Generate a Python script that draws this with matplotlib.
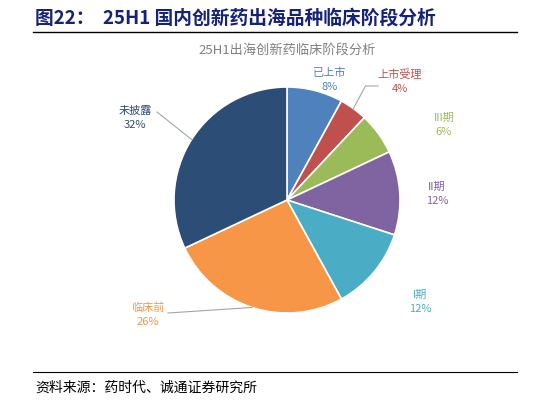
import matplotlib
matplotlib.use("Agg")
import matplotlib.pyplot as plt
import numpy as np

plt.rcParams['font.family'] = ['Noto Sans CJK SC', 'DejaVu Sans']

labels = ['已上市', '上市受理', 'III期', 'II期', 'I期', '临床前', '未披露']
values = [8, 4, 6, 12, 12, 26, 32]
colors = ['#4F81BD', '#C0504D', '#9BBB59', '#8064A2', '#4BACC6', '#F79646', '#2C4D75']
text_colors = ['#4F81BD', '#C0504D', '#9BBB59', '#8064A2', '#4BACC6', '#F79646', '#2C4D75']
# label anchor positions in pixels (layout)
label_pos = [(330, 80), (400, 82), (444, 125), (437, 194), (420, 302), (148, 315), (135, 118)]
leader = [False, True, False, False, False, True, True]

W, H = 547, 405
fig = plt.figure(figsize=(W/100, H/100), dpi=100)
ax = fig.add_axes([0, 0, 1, 1])
ax.set_xlim(0, W); ax.set_ylim(H, 0)
ax.axis('off')

cx, cy, r = 287, 200, 113
wedges, _ = ax.pie(values, colors=colors, startangle=90, counterclock=False,
                   center=(cx, H - cy), radius=r, frame=True,
                   wedgeprops=dict(edgecolor='white', linewidth=1.2))
# pie draws in y-up coords; flip by transforming
ax.set_ylim(0, H)
ax.set_aspect('equal')
ax.set_xlim(0, W)
ax.axis('off')

total = sum(values)
cum = np.cumsum([0] + values)
for i, (lab, v) in enumerate(zip(labels, values)):
    lx, ly = label_pos[i]
    ax.text(lx, H - ly, f"{lab}\n{v}%", ha='center', va='center', fontsize=8,
            color=text_colors[i], linespacing=1.5)
    if leader[i]:
        mid = 90 - 360 * (cum[i] + v / 2) / total
        a = np.deg2rad(mid)
        px, py = cx + r * np.cos(a), H - cy + r * np.sin(a)
        if i == 1:
            xs = [px, px + 12, lx - 22]; ys = [py, H - 86, H - 86]
        elif i == 5:
            xs = [px, lx + 20]; ys = [py, H - ly + 2]
        else:
            xs = [px, lx + 22]; ys = [py, H - ly + 6]
        ax.plot(xs, ys, color='#A6A6A6', lw=0.8)

fig.text(35/W, 1 - 18/H, '图22：  25H1 国内创新药出海品种临床阶段分析', fontsize=13.5,
         fontweight='bold', color='#15227A', va='center', ha='left')
fig.add_artist(plt.Line2D([33/W, 517/W], [1 - 32/H, 1 - 32/H], color='black', lw=1))
fig.text(287/W, 1 - 50/H, '25H1出海创新药临床阶段分析', fontsize=9.5, color='#808080',
         ha='center', va='center')
fig.add_artist(plt.Line2D([33/W, 517/W], [1 - 372/H, 1 - 372/H], color='black', lw=0.8))
fig.text(35/W, 1 - 388/H, '资料来源：药时代、诚通证券研究所', fontsize=10, color='black',
         ha='left', va='center')

fig.savefig('out.png', dpi=100)
